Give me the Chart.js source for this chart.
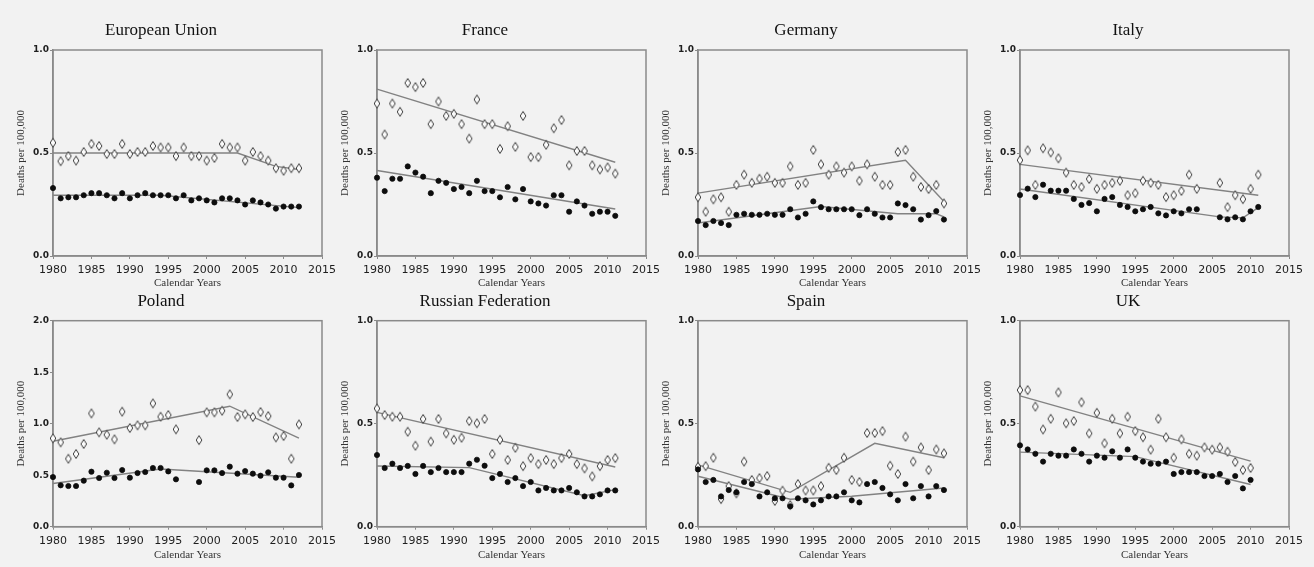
<!DOCTYPE html>
<html>
<head>
<meta charset="utf-8">
<script src="https://cdn.jsdelivr.net/npm/chart.js@4/dist/chart.umd.min.js"></script>
<style>
  html, body { margin: 0; padding: 0; background: #f2f2f2; }
  #wrap { position: relative; width: 1314px; height: 567px; overflow: hidden; background: #f2f2f2; }
  #wrap canvas { position: absolute; }
</style>
</head>
<body>
<div id="wrap"></div>
<script>
// Calendar years on the x axis (annual observations)
const years = [1980,1981,1982,1983,1984,1985,1986,1987,1988,1989,1990,1991,1992,1993,1994,1995,1996,
               1997,1998,1999,2000,2001,2002,2003,2004,2005,2006,2007,2008,2009,2010,2011,2012];
const xTicks = [1980,1985,1990,1995,2000,2005,2010,2015];

// Country titles
const countries = ['European Union','France','Germany','Italy','Poland','Russian Federation','Spain','UK'];

// Observed rates, deaths per 100,000 (open diamonds / filled dots); null = no data that year
const euDia = [0.55,0.46,0.485,0.463,0.505,0.544,0.534,0.495,0.495,0.544,0.495,0.505,0.505,0.534,0.527,0.527,0.485,0.527,0.485,0.485,0.463,0.476,0.544,0.527,0.527,0.463,0.505,0.485,0.463,0.426,0.414,0.426,0.426];
const euDot = [0.33,0.28,0.285,0.285,0.295,0.305,0.305,0.295,0.28,0.305,0.28,0.295,0.305,0.295,0.295,0.295,0.28,0.295,0.27,0.28,0.27,0.26,0.28,0.28,0.27,0.25,0.27,0.26,0.25,0.23,0.24,0.24,0.24];
const frDia = [0.74,0.59,0.74,0.70,0.84,0.82,0.84,0.64,0.75,0.68,0.69,0.64,0.57,0.76,0.64,0.64,0.52,0.63,0.53,0.68,0.48,0.48,0.54,0.62,0.66,0.44,0.51,0.51,0.44,0.42,0.43,0.40];
const frDot = [0.38,0.315,0.375,0.375,0.435,0.405,0.385,0.305,0.365,0.355,0.325,0.335,0.305,0.365,0.315,0.315,0.285,0.335,0.275,0.325,0.265,0.255,0.245,0.295,0.295,0.215,0.265,0.245,0.205,0.215,0.215,0.195];
const deDia = [0.285,0.215,0.275,0.285,0.215,0.345,0.395,0.355,0.375,0.385,0.355,0.355,0.435,0.345,0.355,0.515,0.445,0.395,0.435,0.405,0.435,0.365,0.445,0.385,0.345,0.345,0.505,0.515,0.385,0.335,0.325,0.345,0.255];
const deDot = [0.17,0.15,0.17,0.16,0.15,0.20,0.205,0.20,0.20,0.205,0.20,0.20,0.227,0.187,0.205,0.265,0.237,0.227,0.227,0.227,0.227,0.198,0.227,0.205,0.187,0.187,0.255,0.247,0.227,0.177,0.198,0.218,0.177];
const itDia = [0.465,0.513,0.345,0.523,0.503,0.474,0.405,0.345,0.335,0.374,0.326,0.345,0.355,0.365,0.295,0.305,0.365,0.355,0.345,0.286,0.295,0.316,0.395,0.326,null,null,0.355,0.237,0.295,0.276,0.326,0.395];
const itDot = [0.296,0.327,0.286,0.346,0.317,0.317,0.317,0.277,0.248,0.257,0.217,0.277,0.286,0.248,0.238,0.217,0.227,0.238,0.207,0.197,0.217,0.207,0.227,0.227,null,null,0.188,0.178,0.188,0.178,0.217,0.238];
const plDia = [0.858,0.819,0.66,0.706,0.803,1.10,0.916,0.893,0.848,1.117,0.958,0.984,0.984,1.197,1.068,1.084,0.945,null,null,0.841,1.11,1.11,1.126,1.285,1.065,1.091,1.065,1.113,1.074,0.867,0.88,0.66,0.993];
const plDot = [0.482,0.402,0.395,0.395,0.447,0.534,0.473,0.524,0.473,0.55,0.476,0.521,0.531,0.57,0.57,0.537,0.46,null,null,0.434,0.547,0.547,0.521,0.583,0.515,0.54,0.515,0.495,0.528,0.476,0.476,0.401,0.502];
const ruDia = [0.574,0.542,0.534,0.534,0.461,0.393,0.523,0.413,0.523,0.453,0.422,0.432,0.513,0.502,0.523,0.353,0.422,0.324,0.383,0.294,0.333,0.304,0.324,0.304,0.333,0.353,0.304,0.283,0.244,0.294,0.324,0.333];
const ruDot = [0.348,0.285,0.306,0.285,0.295,0.256,0.295,0.265,0.285,0.265,0.265,0.265,0.306,0.325,0.296,0.236,0.256,0.217,0.236,0.197,0.217,0.176,0.188,0.176,0.176,0.188,0.167,0.147,0.147,0.157,0.176,0.176];
const esDia = [0.291,0.294,0.335,0.134,0.197,0.162,0.316,0.227,0.236,0.246,0.125,0.175,0.105,0.207,0.176,0.176,0.197,0.286,0.275,0.335,0.227,0.217,0.455,0.455,0.464,0.296,0.256,0.437,0.316,0.385,0.275,0.375,0.356];
const esDot = [0.278,0.217,0.227,0.147,0.178,0.167,0.217,0.207,0.147,0.167,0.138,0.138,0.099,0.138,0.128,0.108,0.128,0.147,0.147,0.167,0.128,0.118,0.207,0.217,0.188,0.157,0.128,0.207,0.138,0.197,0.147,0.197,0.178];
const ukDia = [0.663,0.663,0.583,0.472,0.524,0.652,0.502,0.513,0.604,0.453,0.553,0.405,0.524,0.453,0.534,0.464,0.434,0.374,0.524,0.434,0.335,0.424,0.354,0.345,0.385,0.374,0.385,0.364,0.314,0.275,0.285];
const ukDot = [0.395,0.375,0.354,0.316,0.354,0.345,0.345,0.375,0.354,0.316,0.345,0.335,0.366,0.335,0.375,0.335,0.316,0.306,0.306,0.316,0.256,0.265,0.265,0.265,0.246,0.246,0.256,0.217,0.246,0.186,0.227];

// Joinpoint trend lines: knot years and fitted rates at those knots
const euDiaTrendYears = [1980,2004,2009,2012]; const euDiaTrend = [0.50,0.50,0.435,0.42];
const euDotTrendYears = [1980,1994,2012];      const euDotTrend = [0.295,0.295,0.235];
const frDiaTrendYears = [1980,2011];           const frDiaTrend = [0.81,0.455];
const frDotTrendYears = [1980,2011];           const frDotTrend = [0.415,0.228];
const deDiaTrendYears = [1980,2007,2012];      const deDiaTrend = [0.305,0.465,0.265];
const deDotTrendYears = [1980,1996,2006,2011,2012]; const deDotTrend = [0.16,0.24,0.205,0.205,0.19];
const itDiaTrendYears = [1980,2011];           const itDiaTrend = [0.445,0.295];
const itDotTrendYears = [1980,2006,2009,2011]; const itDotTrend = [0.325,0.19,0.185,0.235];
const plDiaTrendYears = [1980,2003,2012];      const plDiaTrend = [0.83,1.17,0.86];
const plDotTrendYears = [1980,1994,2012];      const plDotTrend = [0.42,0.56,0.48];
const ruDiaTrendYears = [1980,2011];           const ruDiaTrend = [0.555,0.29];
const ruDotTrendYears = [1980,1992,2007,2011]; const ruDotTrend = [0.295,0.287,0.15,0.18];
const esDiaTrendYears = [1980,1992,2003,2012]; const esDiaTrend = [0.30,0.167,0.405,0.335];
const esDotTrendYears = [1980,1992,2000,2012]; const esDotTrend = [0.245,0.133,0.148,0.188];
const ukDiaTrendYears = [1980,2010];           const ukDiaTrend = [0.635,0.318];
const ukDotTrendYears = [1980,1995,2010];      const ukDotTrend = [0.362,0.34,0.205];

// y-axis tick values
const yTicksSmall = [0.0,0.5,1.0];
const yTicksLarge = [0.0,0.5,1.0,1.5,2.0];

const panelSeries = [
  [euDia, euDot, euDiaTrendYears, euDiaTrend, euDotTrendYears, euDotTrend, yTicksSmall],
  [frDia, frDot, frDiaTrendYears, frDiaTrend, frDotTrendYears, frDotTrend, yTicksSmall],
  [deDia, deDot, deDiaTrendYears, deDiaTrend, deDotTrendYears, deDotTrend, yTicksSmall],
  [itDia, itDot, itDiaTrendYears, itDiaTrend, itDotTrendYears, itDotTrend, yTicksSmall],
  [plDia, plDot, plDiaTrendYears, plDiaTrend, plDotTrendYears, plDotTrend, yTicksLarge],
  [ruDia, ruDot, ruDiaTrendYears, ruDiaTrend, ruDotTrendYears, ruDotTrend, yTicksSmall],
  [esDia, esDot, esDiaTrendYears, esDiaTrend, esDotTrendYears, esDotTrend, yTicksSmall],
  [ukDia, ukDot, ukDiaTrendYears, ukDiaTrend, ukDotTrendYears, ukDotTrend, yTicksSmall]
];

// ---- layout of the 2 x 4 grid ----
const axisLeft = [53, 377, 698, 1020];   // page x of each panel's y axis
const plotWidth = 269;
const yAxisBox = 53;
const rightPad = 22;
const rows = [
  { top: 0,   height: 290, titlePadTop: 20.8, xAxisBox: 34,   xTitlePad: 0.4 },
  { top: 285, height: 282, titlePadTop: 6.5,  xAxisBox: 40.3, xTitlePad: 5.4 }
];

// open lozenge marker
function makeLozenge() {
  const c = document.createElement('canvas');
  c.width = 8; c.height = 12;
  const g = c.getContext('2d');
  g.beginPath();
  g.moveTo(4, 1.5); g.lineTo(6.8, 6); g.lineTo(4, 10.5); g.lineTo(1.2, 6); g.closePath();
  g.fillStyle = '#fcfcfc'; g.fill();
  g.strokeStyle = '#3c3c3c'; g.lineWidth = 1; g.stroke();
  return c;
}
const lozenge = makeLozenge();

function toPoints(vals) {
  const pts = [];
  vals.forEach((v, i) => { if (v !== null) pts.push({ x: years[i], y: v }); });
  return pts;
}
function toLine(ys, vs) { return ys.map((y, i) => ({ x: y, y: vs[i] })); }

// gray frame round the plotting area
const frame = {
  id: 'frame',
  beforeDatasetsDraw(chart) {
    const a = chart.chartArea, ctx = chart.ctx;
    ctx.save();
    ctx.strokeStyle = '#8a8a8a';
    ctx.lineWidth = 1.5;
    ctx.strokeRect(a.left, a.top, a.right - a.left, a.bottom - a.top);
    ctx.restore();
  }
};

const wrap = document.getElementById('wrap');
countries.forEach((name, idx) => {
  const row = rows[Math.floor(idx / 4)];
  const col = idx % 4;
  const [dia, dot, dtY, dtV, ptY, ptV, yTicks] = panelSeries[idx];
  const yMax = yTicks[yTicks.length - 1];

  const cv = document.createElement('canvas');
  const w = yAxisBox + plotWidth + rightPad;
  cv.width = w; cv.height = row.height;
  cv.style.left = (axisLeft[col] - yAxisBox) + 'px';
  cv.style.top = row.top + 'px';
  cv.style.width = w + 'px'; cv.style.height = row.height + 'px';
  wrap.appendChild(cv);

  new Chart(cv, {
    type: 'scatter',
    data: {
      datasets: [
        { type: 'line', label: 'trend (diamonds)', data: toLine(dtY, dtV), borderColor: '#828282', borderWidth: 1.4,
          pointRadius: 0, fill: false, tension: 0, order: 3, clip: false },
        { type: 'line', label: 'trend (dots)', data: toLine(ptY, ptV), borderColor: '#828282', borderWidth: 1.4,
          pointRadius: 0, fill: false, tension: 0, order: 3, clip: false },
        { label: 'diamonds', data: toPoints(dia), pointStyle: lozenge, pointRadius: 4, order: 2, clip: false },
        { label: 'dots', data: toPoints(dot), pointStyle: 'circle', pointRadius: 2.6,
          backgroundColor: '#0d0d0d', borderColor: '#0d0d0d', borderWidth: 0.8, order: 1, clip: false }
      ]
    },
    options: {
      responsive: false,
      animation: false,
      devicePixelRatio: 1,
      layout: { padding: { left: 0, right: rightPad, top: 0, bottom: 0 } },
      plugins: {
        legend: { display: false },
        tooltip: { enabled: false },
        title: {
          display: true, text: name, color: '#111',
          font: { family: '"Liberation Serif", "Times New Roman", serif', size: 17, weight: 'normal', lineHeight: 1.2 },
          padding: { top: row.titlePadTop, bottom: 8.8 }
        }
      },
      scales: {
        x: {
          type: 'linear', min: 1980, max: 2015,
          afterBuildTicks: s => { s.ticks = xTicks.map(v => ({ value: v })); },
          afterFit: s => { s.height = row.xAxisBox; s.paddingLeft = 0; s.paddingRight = 0; },
          ticks: { color: '#1e1e1e', padding: 5, maxRotation: 0, autoSkip: false,
                   font: { family: '"DejaVu Sans", Verdana, sans-serif', size: 11 },
                   callback: v => String(v) },
          grid: { display: true, drawOnChartArea: false, drawTicks: true, tickLength: 3, color: '#8a8a8a', lineWidth: 1 },
          border: { display: true, color: '#8a8a8a', width: 1.5 },
          title: { display: true, text: 'Calendar Years', color: '#333',
                   font: { family: '"Liberation Serif", "Times New Roman", serif', size: 11, lineHeight: 1.2 },
                   padding: { top: 0, bottom: row.xTitlePad } }
        },
        y: {
          type: 'linear', min: 0, max: yMax,
          afterBuildTicks: s => { s.ticks = yTicks.map(v => ({ value: v })); },
          afterFit: s => { s.width = yAxisBox; s.paddingTop = 0; s.paddingBottom = 0; },
          ticks: { color: '#1e1e1e', padding: 1,
                   font: { family: '"DejaVu Sans", Verdana, sans-serif', size: 9, weight: 'bold' },
                   callback: v => Number(v).toFixed(1) },
          grid: { display: true, drawOnChartArea: false, drawTicks: true, tickLength: 3, color: '#8a8a8a', lineWidth: 1 },
          border: { display: true, color: '#8a8a8a', width: 1.5 },
          title: { display: true, text: 'Deaths per 100,000', color: '#333',
                   font: { family: '"Liberation Serif", "Times New Roman", serif', size: 11, lineHeight: 1.2 },
                   padding: { top: 15, bottom: 0 } }
        }
      }
    },
    plugins: [frame]
  });
});
</script>
</body>
</html>
